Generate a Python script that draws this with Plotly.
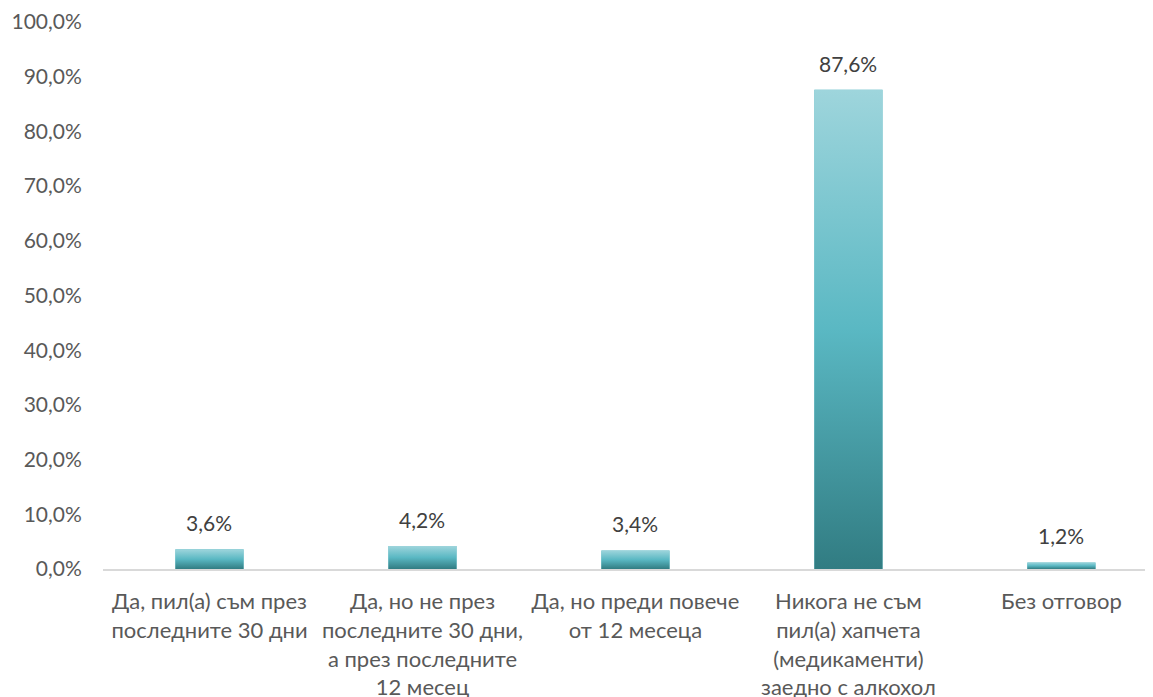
import plotly.graph_objects as go

categories = [
    "Да, пил(а) съм през<br>последните 30 дни",
    "Да, но не през<br>последните 30 дни,<br>а през последните<br>12 месец",
    "Да, но преди повече<br>от 12 месеца",
    "Никога не съм<br>пил(а) хапчета<br>(медикаменти)<br>заедно с алкохол",
    "Без отговор",
]
values = [3.6, 4.2, 3.4, 87.6, 1.2]
y_ticks = [0, 10, 20, 30, 40, 50, 60, 70, 80, 90, 100]


def pct(v):
    return f"{v:.1f}".replace(".", ",") + "%"


BAR_W = 0.32
FONT = "Lato"
idx = list(range(len(categories)))

fig = go.Figure()
fig.add_trace(go.Bar(x=idx, y=values, width=BAR_W, marker=dict(color="#5ab8c3", line=dict(width=0)),
                     hoverinfo="skip", showlegend=False))
# gradient overlay per bar
for i, v in zip(idx, values):
    fig.add_trace(go.Scatter(
        x=[i - BAR_W / 2, i - BAR_W / 2, i + BAR_W / 2, i + BAR_W / 2, i - BAR_W / 2],
        y=[0, v, v, 0, 0],
        mode="lines", line=dict(width=0), fill="toself",
        fillgradient=dict(type="vertical",
                          colorscale=[[0, "#317c82"], [0.5, "#5ab8c3"], [1, "#9ed5dc"]]),
        hoverinfo="skip", showlegend=False,
    ))
    fig.add_annotation(x=i, y=v, text=pct(v),
                       showarrow=False, yanchor="bottom", yshift=12,
                       font=dict(family=FONT, size=21, color="#404040"))

fig.update_layout(
    width=1145, height=689,
    margin=dict(l=95, r=0, t=14, b=128),
    paper_bgcolor="white", plot_bgcolor="white",
    font=dict(family=FONT, size=21, color="#595959"),
    showlegend=False,
)
fig.update_xaxes(
    range=[-0.5, 4.43], tickvals=idx, ticktext=categories, automargin=False,
    showgrid=False, zeroline=False, showline=True, linecolor="#d9d9d9", linewidth=2,
    ticks="outside", ticklen=12, tickcolor="rgba(0,0,0,0)",
    tickfont=dict(family=FONT, size=22, color="#595959"),
)
fig.update_yaxes(
    range=[0, 100], tickvals=y_ticks, ticktext=[pct(t) for t in y_ticks], automargin=False,
    showgrid=False, zeroline=False, showline=False,
    ticks="outside", ticklen=16, tickcolor="rgba(0,0,0,0)",
    tickfont=dict(family=FONT, size=21, color="#595959"),
)
fig.write_html("out.html")
